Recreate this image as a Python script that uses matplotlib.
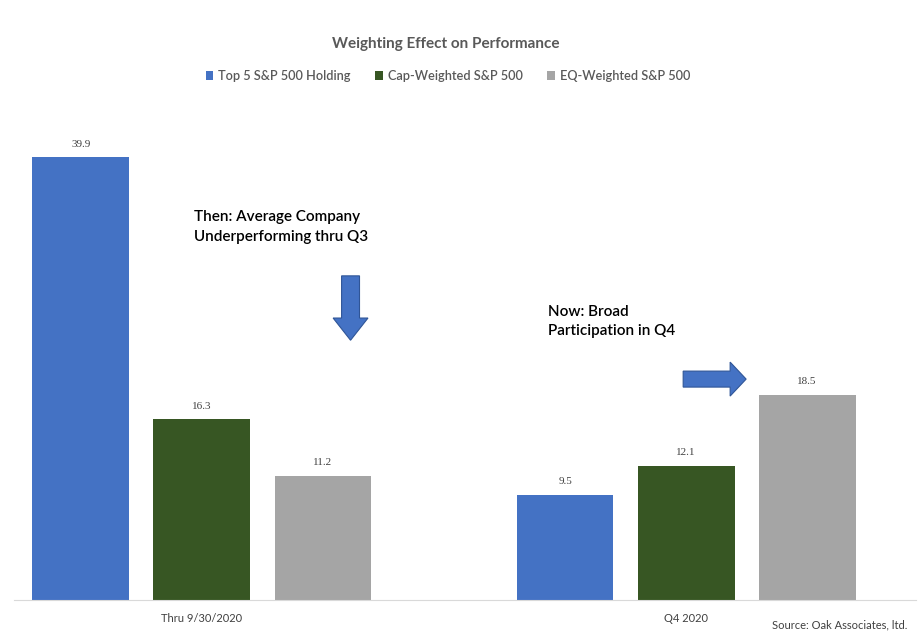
import matplotlib.pyplot as plt
import numpy as np
from matplotlib.patches import FancyArrow, Patch

plt.rcParams['font.family'] = ['Lato', 'DejaVu Sans']

# data
periods = ['Thru 9/30/2020', 'Q4 2020']
series = ['Top 5 S&P 500 Holding', 'Cap-Weighted S&P 500', 'EQ-Weighted S&P 500']
top5 = [39.9, 9.5]
cap_weighted = [16.3, 12.1]
eq_weighted = [11.2, 18.5]
colors = ['#4472C4', '#375623', '#A5A5A5']

fig = plt.figure(figsize=(9.18, 6.42), dpi=100)
ax = fig.add_axes([0.0153, 0.0654, 0.9826, 0.7477])

x = np.arange(len(periods))
w = 0.2
offsets = [-0.25, 0, 0.25]
for vals, off, c in zip([top5, cap_weighted, eq_weighted], offsets, colors):
    bars = ax.bar(x + off, vals, width=w, color=c)
    for b, v in zip(bars, vals):
        ax.annotate(f'{v}', (b.get_x() + b.get_width() / 2, v), xytext=(0, 6),
                    textcoords='offset points', ha='center', va='bottom',
                    fontsize=8, color='#404040', family=['Liberation Serif', 'DejaVu Serif'])

ax.set_xlim(-0.388, 1.475)
ax.set_ylim(0, 43.24)
ax.set_xticks(x)
ax.set_xticklabels(periods, fontsize=8, color='#404040')
ax.tick_params(axis='x', length=0, pad=9)
ax.set_yticks([])
for s in ['top', 'right', 'left']:
    ax.spines[s].set_visible(False)
ax.spines['bottom'].set_color('#D9D9D9')

# annotations
ax.text(-0.017, 33.6, 'Then: Average Company\nUnderperforming thru Q3', fontsize=11,
        fontweight='semibold', color='black', va='center', ha='left', linespacing=1.5)
ax.text(0.715, 25.1, 'Now: Broad\nParticipation in Q4', fontsize=11,
        fontweight='semibold', color='black', va='center', ha='left', linespacing=1.5)

ax.add_patch(FancyArrow(0.307, 29.2, 0, -5.8, width=0.037, head_width=0.072,
                        head_length=2.0, length_includes_head=True,
                        facecolor='#4472C4', edgecolor='#2F5597', lw=0.8))
ax.add_patch(FancyArrow(0.994, 19.9, 0.13, 0, width=1.44, head_width=3.06,
                        head_length=0.033, length_includes_head=True,
                        facecolor='#4472C4', edgecolor='#2F5597', lw=0.8))

fig.text(0.486, 1 - 44 / 642, 'Weighting Effect on Performance', ha='center', va='center',
         fontsize=11, fontweight='bold', color='#595959')
handles = [Patch(facecolor=c) for c in colors]
fig.legend(handles, series, loc='center', bbox_to_anchor=(0.488, 1 - 76 / 642), ncol=3,
           frameon=False, handlelength=0.6, handleheight=0.6,
           handletextpad=0.4, columnspacing=1.9,
           prop={'weight': 'semibold', 'size': 9.2})
for t in fig.legends[0].get_texts():
    t.set_color('#595959')

fig.text(907 / 918, 1 - 625 / 642, 'Source: Oak Associates, ltd.', ha='right', va='center',
         fontsize=8, color='#404040')

fig.savefig('out.png', dpi=100)
